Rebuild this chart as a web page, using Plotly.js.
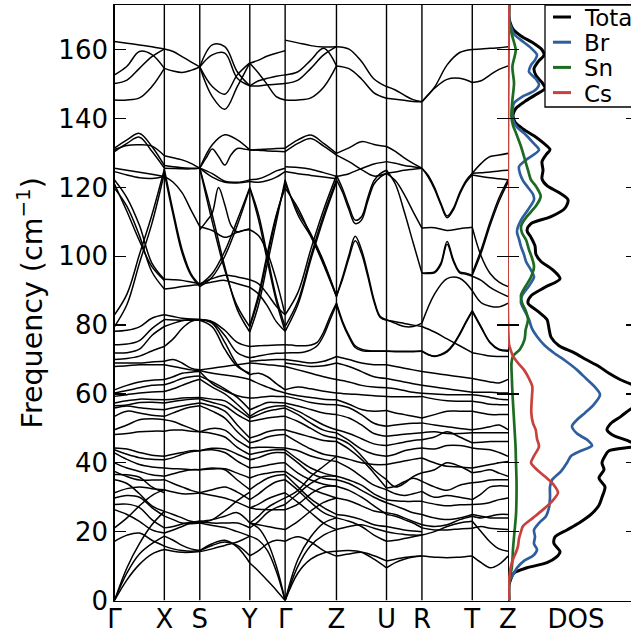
<!DOCTYPE html>
<html><head><meta charset="utf-8">
<script src="https://cdn.plot.ly/plotly-3.0.1.min.js"></script>
<style>html,body{margin:0;padding:0;background:#fff;overflow:hidden}#chart{width:631px;height:635px}</style>
</head><body><div id="chart"></div>
<script>
// High-symmetry path labels and cumulative k-path distances
const kLabels = ['Γ','X','S','Y','Γ','Z','U','R','T','Z'];
const kDist = [0, 49.8, 85.2, 135.2, 170.5, 221.8, 271.8, 307.2, 357.5, 393.2];

// Phonon branches per path segment (cm^-1), each sampled evenly along its segment
const bandsGX = [
[162.4,161.9,161.4,160.9,160.2],[152.7,155.2,159.5,158.6,154.6],[150.2,151.2,154.6,158,160.2],[145.4,145.4,146,149.3,154.6],
[131.4,133.8,135.7,131.9,126.4],[130.4,132.8,134.6,130.5,125.6],[131,132.2,132.4,132,129.2],[125.6,125,124.4,123.8,123.2],[124.6,123.6,122.8,122.6,123.2],
[122.2,117,109,98,93.3],[121,113,104.5,97,93],[119.8,114.5,106,95.5,90.5],[83,89,100.5,112,125.3],[79.6,86,98,109.5,124.2],
[78.2,78.5,79.5,82,83],[74.3,74.5,75.5,79,81.6],[71.9,72,73,77,79.6],[70,70.3,71,72.5,73.8],[69,69,69,69.3,69.5],[68,68.2,68.5,68.5,68.5],
[61.2,62.5,63.5,64,64.2],[60.3,61,61.8,62.5,62.7],[59.3,59.8,60.3,60.6,60.7],[57.4,58,58.5,58.4,58.3],[56.6,56.8,57.5,57.6,57.4],
[55.9,56.5,56,55.6,55.4],[53.5,55,54.5,53.8,53.5],[49.6,51,52.5,52.8,52.5],[48.2,48.5,49,49.2,49.2],[44.3,44,43,42.2,41.9],
[43.8,42.5,41.5,41,40.9],[42.9,41,39.5,38.8,38.5],[40,38.5,37.5,36.5,36.1],[37.5,36,35,35,35.1],[36.6,36.5,35.8,33,31.3],
[35.1,34,31,27.5,25.9],[31.3,32.5,33,32.5,32.2],[29.8,30.5,30,27,24.5],[27.9,28,27,23.5,21.1],[26.4,25,23,20.5,19.6],
[21.1,24,27.5,30.5,32.2],[17.2,19,19.6,17.5,15.8],[0,6,10.5,13.5,14.8],[0,8,13.5,16.5,18.7],[0,9.5,16.5,22,25.9]
];
const bandsXS = [
[160.2,159.5,158,156.5,155],[154.6,153.8,153.4,154,155],
[129.2,128.6,128,127,125.6],[125.6,125.5,125.4,125.4,125.6],[126.4,126,125.7,125.6,125.6],
[123.2,121.5,118.5,113.5,108.6],[125.3,113,102,95,91.7],[124.2,112,101,94.5,91.2],
[93.3,93.2,93,92.5,92],[90.5,90.8,91.2,91.5,91.7],[83,82.5,82,81.8,81.6],[79.6,80.5,81.3,81.6,81.6],[81.6,81.5,81.4,81.4,81.4],[73.8,76,79,81,81.6],
[69.5,70,69,67.5,67],[68.5,68,67.5,67,66.8],[64.2,65,66,66.3,66.5],[62.7,63.5,64.5,65,65.2],[60.7,61.5,62.5,63.5,64.3],
[58.3,58.5,58.8,58.9,59],[57.4,57.8,58.2,58.5,58.6],[55.4,56,56.5,57,57.4],[53.5,54.5,55.5,56.2,56.6],[52.5,52,51,50,49],[49.2,49.5,49.5,49.2,49],
[41.9,42.5,43,43.5,43.5],[40.9,41.5,42.5,43.2,43.5],[38.5,38.3,38.2,38,38],[36.1,36.8,37.5,38,38],[35.1,34,33,32,31.3],[32.2,31.5,31,31,31.2],
[25.9,25,24,23,22.5],[24.5,23.5,22.5,22.3,22.5],[21.1,21.5,22.2,22.7,23],[19.6,20.5,21.5,22.5,23],
[18.7,17.5,16,15,14.5],[15.8,15,14.5,14.3,14.5],[14.8,14.3,14,14,14.2]
];
const bandsSY = [
[155,161.4,160.9,153.6,149.5],[155,158.5,159,151.7,149.5],[155,149.3,147.1,152.7,156.2],[155,146.4,142.7,149.3,156.2],
[125.6,132.4,135.3,133.8,130.9],[125.6,128.5,131.2,129,126.5,129.5,131.3,131.2,130.9],[125.6,124,121.8,121.5,122.2],[125.6,123,121.5,121.3,121.7],
[107.7,110,112.6,120,115,109,107.1,107.5,107.7],
[125.6,112,97,84.5,78],[125.6,110,96,85.5,79.5],[108.6,107.5,105.5,107,108],
[91.7,95,101.5,110.5,120],[91.2,94,100,109,119.8],[92,93.5,94.5,94,93.2],[91.7,92.5,93,92,91],
[81.6,80.5,75,68.5,65.6],[81.4,79.5,73,68,66],[81.6,81,78.5,75,73.8],[81.6,80.8,77,72,70.5],
[67,67.5,68,68.5,69],[66.8,66,65.5,65,64.2],[66.5,63,61,59.5,58.8],[65.2,63.5,61.5,59,55.4],[64.3,62,60,57,53.5],
[59,58.5,58,55.5,53],[58.6,57.5,56.5,54,52],[57.4,56.5,55,51,47.2],[56.6,55,53,49,45.8],[49,50,49.5,46.5,44.3],[49,48.5,47.5,44.5,42.4],
[43.5,44.2,44,42.5,40.9],[43.5,43.8,43,40.5,38.5],[38,38.2,38.3,37,35.6],[38,38.5,38,35,32.2],[31.3,32.2,33,31.5,29.3],[31.2,30.5,29.8,28.5,26.9],
[23,23.5,24.5,25.5,22.5],[23,22.5,22.5,22.5,21.1],[22.5,21.8,21.2,20,18.7],[22.5,23.5,26,29,31.5],
[14.5,16.5,17.5,15.5,10.9],[14.5,16,17,16,13],[14.2,15,16,17,18.7]
];
const bandsYG = [
[156.1,157,158.2,159,159.7],[156.1,153.2,149.8,146.4,145.4],[149.5,149.5,149.8,150,150.2],[149.5,151,151.7,152.3,152.7],
[130.9,131,131.2,131.3,131.4],[130.9,130.8,130.6,130.5,130.4],[122.2,122.5,123.5,124.8,125.6],[121.7,121.5,122,123,124.6],
[120,112,100,88,79.6],[119.8,110.5,98.5,87,78.2],[78,86,98,110,122.2],[79.5,88,100,111.5,121],[80,89,101,112,119.8],
[107.7,106,101,93,83],[93.2,92,89,85.5,83],[91,89,85.5,81,78.2],
[73.8,74,74.1,74.2,74.3],[70.5,71,71.5,71.8,71.9],[69.5,69.7,69.9,70,70],[69,68.8,68.5,68.3,68],
[65.6,66,65,63,61.2],[64.2,63,62,61,60.3],[58.8,59,59.3,59.3,59.3],[55.4,56.5,57.5,57.5,57.4],[53.5,55,56,56.5,56.6],[53,54,55,55.5,55.9],
[52,52.5,53,53.3,53.5],[47.2,48,49,49.5,49.6],[45.8,46.5,47.5,48,48.2],[44.3,44.5,44.5,44.4,44.3],[42.4,43,43.5,43.8,43.8],[40.9,41.5,42.5,43,42.9],
[38.5,38.8,39.3,39.8,40],[35.6,36.5,37,37.4,37.5],[32.2,34,35.5,36.3,36.6],[29.3,31,33,34.5,35.1],[26.9,28,29.5,30.5,31.3],[22.5,24.5,27,28.5,29.8],
[21.1,23,25.5,27,27.9],[26.9,26.5,26.4,26.4,26.4],[22.5,22,21.5,21,20.6],[13,14.5,16.5,17.5,17.2],
[10.9,8.5,5.8,3,0],[18.7,17.5,14.5,8.5,0],[22.5,21,17,10,0]
];
const bandsGZ = [
[162.8,162,161.2,160.8,160.9],[152.7,153.6,157,160.4,155.3],[150.2,151.2,154.6,158.5,160.9],[145.4,145.4,146,149.1,155.3],
[131.4,133.8,135.2,132.8,129.9],[130.4,132.8,134.2,132,129.4],[126,125.8,125.3,124.3,123.2],[124.6,124,123.5,123,122.5],
[122.2,112,105.8,98,88.3],[121,113,106.5,98.5,88.5],[119.8,114,106,97.5,88.3],
[79.6,87,100,112,122.2],[78.2,86,99,111,121.5],[83,89.5,102,113.5,123.5],
[74.3,74.2,74,74,74.2,75,78,82.5,86.4],[71.9,72,72,72.2,72.8,74,77,81.5,86],
[70,69.5,69,69.5,70.9],[69,68.5,68,68.2,69],[68,67,66,65,64.2],
[61.2,62,61.5,60.8,60.3],[60.3,59.5,59,58.5,58.3],[59.3,58.5,57.5,57,56.9],[57.4,56.5,55.5,54.5,54],[56.6,55,53,51,49.6],[55.9,54,51.5,49.5,48.7],
[53.5,52,50,48,47.2],[49.6,48.5,47.5,46.5,46.2],[48.2,46,44,42.5,41.9],[44.3,43.5,42,41,40.4],[43.8,41,38.5,37,36.1],[42.9,40,37,35.5,35.1],
[40,37,35,33.8,33.2],[37.5,35,32.5,31,29.8],[36.6,33,29.5,27,25],[35.1,32,28.5,25.5,24],[31.3,28.5,25.5,22.5,20.6],
[29.8,32,36,39,41.9],[27.9,31,34,36,36.1],[26.4,28,31,33,33.2],[20.6,23,26,28.5,29.8],[17.2,18.5,17,14.5,12.9],
[0,8,12,13.8,14.3],[0,10,16,19,20.6],[0,12,18.5,22.5,24]
];
const bandsZU = [
[160.9,160.2,156.6,151.5,149.3],[155.3,154.5,151.5,147.5,145.9],
[129.9,131.5,133.3,132.5,131.9],[129.4,127.5,125.2,123.3,124.1],[123.2,124,125.5,126.8,127.5],
[122.2,118.5,113.5,109.5,110.5,116,121,123,124.1],[123.5,119.5,114.5,110.5,111.5,117,122,124,125],
[88.3,94.1,100.4,105.8,101.9,95.1,87.4,82.5,81.6],[88.5,93.5,99.5,104.5,100.8,94.2,86.8,82.2,81.4],
[86.4,81,77,74,73,72.6,72.5,72.5,72.5],[86,80.5,76.5,73.5,72.6,72.4,72.4,72.4,72.4],
[70.9,70,69,68.5,68.5],[69,68,66.5,65,64.5],[64.2,63.5,62.5,62,61.8],[60.3,60,59.8,59.5,59.3],[58.3,57,55.5,55,55.2],
[56.9,56,54,51.5,50.6],[54,53,51,48.5,47.7],[49.6,48.5,47,45.5,45],[48.7,46.5,44,42.5,41.9],[47.2,45.5,42,38,35.1],
[46.2,44,41,37,32.7],[41.9,41,40,39.5,39.5],[40.4,38.5,36,33.5,32.2],[36.1,35,33.5,31,29.3],[35.1,34,32,30,28.4],
[33.2,32,30,27.5,25],[29.8,29,27.5,26,25.5],[25,24.5,23.5,22,21.5],[24,23,21.5,19,17.2],[20.6,21.5,22,21,20],
[14.3,14.5,14,12,9.5],[12.9,13.5,14,13,11.5]
];
const bandsUR = [
[149.3,148.3,146.8,145.5,144.9],[145.9,145.6,145.3,145,144.9],
[131.9,130.5,128.6,127,125.6],[127.5,127,126.4,126,125.6],[124.1,124.5,125,125.3,125.6],
[124.1,122,118,113,108.2],[125,121,113,104,95.1],
[81.6,80.5,79.6,79.6,80.6],[81.4,81,80.5,80,79.6],[72.5,72.4,72.4,72.4,72.5],[72.4,72.3,72.3,72.3,72.4],
[68.5,68,67.5,67,66.5],[64.5,64,63.5,63,62.5],[61.8,61.5,61,60.5,60.2],[59.3,59.2,59.2,59.2,59.3],[55.2,54.5,54,53.5,53],
[50.6,51,51.3,51.5,51.6],[47.7,48,48.3,48.5,48.7],[45,45.5,46,46.5,46.7],[41.9,42.5,43.5,44,44.3],[39.5,40,40.5,41,41.4],
[35.1,33,34,36,37.1],[32.7,33.2,34.5,35.5,34.6],[32.2,31,30.5,31,31.7],[29.3,29,28.8,28.8,28.8],[28.4,27.5,26.5,25.5,25],
[25.5,25,24,23,22],[25,24.5,23.5,22.5,21.1],[21.5,21,20.5,20.2,20],[20,19.5,19.2,19,19],[17.2,17.5,18,18.5,19],
[11.5,12,12.5,12.8,12.9],[9.5,11,12,12.6,12.9]
];
const bandsRT = [
[144.9,149.1,155.6,159.2,160.1],[144.9,148.8,151.4,151.7,150.5],
[125.6,123.5,120,115.5,111.7,114,118.5,122,124.1],[125.6,123,119.5,115,111.2,113.5,118,121.5,123.6],
[108.2,108.3,107.5,108,108.4],
[95.1,95.2,95.5,98,104.3,99,95.5,95.1,94.5],[95.1,95,95.2,97.5,103.5,98.5,95.2,94.8,94.2],
[80.6,89,93.5,93.6,90],
[72.5,71.5,71,71.5,72.5,74.5,77.5,81,84.2],[72.4,71.4,70.9,71.3,72.2,74.2,77.2,80.7,84],
[79.6,78,76,74,72],
[66.5,66,65.5,65,64.5],[62.5,62,61.5,61,60.5],[60.2,60,59.8,59.8,59.8],[59.3,58.5,58,57.9,57.9],[53,54,55,55,55],
[51.6,51,50.5,50,49.6],[48.7,49,48.5,48.5,48.7],[46.7,47.5,49,47.5,45.8],[44.3,44,45,45,44.3],[41.4,40,39,38.8,38.5],
[37.1,38,40,39,37.1],[34.6,33,32,33.5,34.2],[31.7,30,30.5,30,29.3],[28.8,28,27.5,27.8,27.9],[25,24,23.5,24,25],
[22,21.5,22,23.5,24.5],[21.1,20.5,20.5,20.8,21],[19,20,21.5,22.5,23],[12.9,12.6,12.4,12.6,12.9]
];
const bandsTZ = [
[160.1,160.2,160.4,160.6,160.9],[150.5,151,152.7,154.3,155.3],
[124.1,127,129,129.4,129.9],[124.1,124.3,124.5,124.8,125],[123.6,123.2,122.8,122.5,122.2],
[108.4,100,95,92.5,91.2],[95.1,102,110,117,122.2],[94.5,101,109,116,121.5],[94.2,93,91,89.5,88.3],
[90,86.5,85.5,85.3,86.4],[84.2,79.5,75,73,72.7],[84,79.2,74.8,72.8,72.4],[72,71.5,71,70.9,70.9],
[64.5,64,63.5,63.2,64.2],[60.5,60.5,60.5,60.3,60.3],[59.8,59.5,59,58.5,58.3],[57.9,57.5,57,56.9,56.9],[55,54.5,54,54,54],
[49.6,50,50.5,51,49.6],[48.7,48.7,48.7,48.7,48.7],[45.8,46,46.2,46.2,46.2],[44.3,44,43.8,43,41.9],[38.5,39,39.5,40,40.4],
[37.1,37.5,38,37,36.1],[34.2,34.5,35,35.1,35.1],[29.3,31,33,33.3,33.2],[27.9,28,28.5,29.3,29.8],[25,24.5,24,24,24],
[24.5,24,24.5,25,25],[21,21.5,21,20.8,20.6],[23,20,17,15,14.3],[12.9,11,9.5,10.5,12.9]
];
const segments = [bandsGX, bandsXS, bandsSY, bandsYG, bandsGZ, bandsZU, bandsUR, bandsRT, bandsTZ];

// Density of states (frequency, value) per species
const dosFreqTotal = [0,4.5,6,8,9.5,11,12.5,14.2,16.5,18.5,20.5,22.5,25,27.7,30,33,35.6,38,40,42,43.5,45,46.5,48,49.6,51.5,53.5,55.5,57.5,60,62.5,64.2,66,68,70,72,74,76.5,79,81.6,84,86.4,88.5,91,93.5,96,98.5,100.5,103,105.5,107.5,109.5,111.5,114,116.4,118.5,120.5,122.5,125,127.5,129.5,131,133,135,137,139,141,143,145,147,148.8,150.5,152.5,154.5,156.5,158.5,160,162,164,166,168,169.5,173];
const dosTotal = [0,0,1.5,5,18,38,47,51,45,46,58,70,82,90,93,96,90,95,93,96,100,128,118,104,98,102,112,121,135,148,125,111,100,90,77,65,50,42,40,38,29,19,22,36,51,44,32,27,26,22,18,22,42,56,59,50,38,33,34,33,37,41,34,25,14,6,4,7,16,27,36,33,27,25,29,35,33,24,12,4,1,0,0];
const dosFreqBr = [0,5,6,7.5,9.5,11.5,13,14.8,16.5,18.5,20.5,22.5,24.5,27,30,33,35,37.5,40,42,43.5,45,46.5,48.5,50.6,52.5,54.5,57,59.8,62,64.5,67,69.5,71.9,74,76.7,79,81.6,84,86.5,88.5,91,94,96,98.5,100.5,102.8,105,107,108.6,111,113.5,116.4,118,120,122,124,126,128,130.9,133,135.8,137.5,139.6,142,144.5,146.5,148,149.8,151.5,153.6,155.5,157,158.5,160.5,162.8,164.5,166.6,168,169,173];
const dosBr = [0,0,1,4,8,15,24,28,25,26,25,30,37,40,41,41,43,52,58,62,72,83,79,68,63,68,76,85,91,86,77,68,57,45,36,28,23,20,16,12,13,19,25,22,17,15,12,10,8,9,13,19,25,24,19,14,11,10,17,30,24,15,8,4,3.5,5,14,25,30,27,20,22,26,28,22,12,5,2,0.5,0,0];
const dosFreqSn = [0,5,7,9,12,15,20,25,30,35,40,45,50,55,60,65,69,71,73,75.8,78.7,81.6,84,86.5,88.7,91,94,97,99.5,101.9,104.8,106.8,108.6,110,111.6,114.5,117.4,120.3,122.2,125,128,131.9,135.8,138,140.6,145.4,150.3,155.1,159.9,163.8,166.7,168,173];
const dosSn = [0,0,1,2.5,3.5,4,5.5,7,7.5,7.5,7,6.5,5.5,4.5,3.5,2.8,2.5,4,11,15.5,16.7,19,17,13,12,16,22,25,23,20,17,13,12,14,18,26.7,31.7,27,22,19,16,12,7,4,2.4,3.4,5,3.4,6.7,3.4,1,0,0];
const dosFreqCs = [0,5,7.6,10,12,14,15.8,18,20,21.6,24,26.4,28.5,31.3,33.5,36,38,40,42,44.8,47,49.6,51.5,54.5,57,59.5,62.2,64.5,67,69,71,72.9,74.5,173];
const dosCs = [0,0,0.7,2,4,7,9,10,12,14,24,34,42,49,45,36,28,22,25,30,28,26.7,24,22.3,22.5,23,23.3,20,15,9,4,1.5,0,0];

const dosSeries = [
  {name:'Total', f:dosFreqTotal, v:dosTotal, color:'#000000', width:3},
  {name:'Br', f:dosFreqBr, v:dosBr, color:'#2f5e9e', width:2.7},
  {name:'Sn', f:dosFreqSn, v:dosSn, color:'#1d6b22', width:2.7},
  {name:'Cs', f:dosFreqCs, v:dosCs, color:'#c8413c', width:2.7}
];

// Build band trace
const bx = [], by = [];
segments.forEach((seg, s) => {
  const a = kDist[s], b = kDist[s+1];
  seg.forEach(curve => {
    const n = curve.length;
    curve.forEach((f, i) => { bx.push(a + (b - a) * i / (n - 1)); by.push(f); });
    bx.push(null); by.push(null);
  });
});

const W = 631, H = 635;
const px = v => v / W, py = v => 1 - v / H;
const traces = [{
  x: bx, y: by, mode: 'lines', xaxis: 'x', yaxis: 'y', hoverinfo: 'skip', showlegend: false,
  line: {color: 'black', width: 1.5, shape: 'spline', smoothing: 1}
}];
dosSeries.forEach(d => traces.push({
  x: d.v, y: d.f, mode: 'lines', xaxis: 'x2', yaxis: 'y2', hoverinfo: 'skip', showlegend: false,
  line: {color: d.color, width: d.width, shape: 'spline', smoothing: 0.8}
}));
traces.push({x: [null], y: [null], xaxis: 'x2', yaxis: 'y3', showlegend: false, mode: 'lines'});

const font = {family: 'DejaVu Sans, sans-serif', size: 26, color: 'black'};
const yTicks = [0,20,40,60,80,100,120,140,160];
const shapes = kDist.slice(1, -1).map(k => ({type: 'line', xref: 'x', yref: 'y', x0: k, x1: k, y0: 0, y1: 173, line: {color: 'black', width: 1.4}}));

// manual legend
shapes.push({type: 'rect', xref: 'paper', yref: 'paper', x0: px(545), x1: px(660), y0: py(107), y1: py(5), fillcolor: 'white', line: {color: 'black', width: 1.3}, layer: 'above'});
const annotations = [];
dosSeries.forEach((d, i) => {
  const yy = 17 + i * 25.2;
  shapes.push({type: 'line', xref: 'paper', yref: 'paper', x0: px(553), x1: px(571), y0: py(yy), y1: py(yy), line: {color: d.color, width: 3}, layer: 'above'});
  annotations.push({xref: 'paper', yref: 'paper', x: px(582), y: py(yy + 1), xanchor: 'left', yanchor: 'middle', text: d.name, showarrow: false, font: {family: 'DejaVu Sans, sans-serif', size: 23, color: 'black'}});
});

const layout = {
  width: W, height: H, margin: {l: 0, r: 0, t: 0, b: 0}, paper_bgcolor: 'white', plot_bgcolor: 'white', showlegend: false,
  xaxis: {domain: [px(114.5), px(508)], range: [0, kDist[kDist.length-1]], tickvals: kDist, ticktext: kLabels, ticks: '', showgrid: false, zeroline: false,
    showline: true, mirror: true, linecolor: 'black', linewidth: 1.3, tickfont: font, anchor: 'y', automargin: false, ticklabelstandoff: -5},
  yaxis: {domain: [1 - 600.5/H, 1 - 5/H], range: [0, 173], tickvals: yTicks, ticks: 'inside', ticklen: 11, tickwidth: 1.3, tickcolor: 'black',
    showline: true, mirror: 'ticks', linecolor: 'black', linewidth: 1.3, showgrid: false, zeroline: false, tickfont: font, anchor: 'x', automargin: false,
    title: {text: 'Frequency (cm<sup>−1</sup>)', font: {family: 'DejaVu Sans, sans-serif', size: 28.5, color: 'black'}, standoff: 7}},
  xaxis2: {domain: [px(508), 1], range: [-1, 122], tickvals: [67], ticktext: ['DOS'], ticks: '', showgrid: false, zeroline: false,
    showline: true, mirror: true, linecolor: 'black', linewidth: 1.3, tickfont: font, anchor: 'y2', automargin: false, ticklabelstandoff: -5},
  yaxis2: {domain: [1 - 600.5/H, 1 - 5/H], range: [0, 173], tickvals: yTicks, ticks: 'inside', ticklen: 11, tickwidth: 1.3, tickcolor: 'black',
    showline: false, showticklabels: false, showgrid: false, zeroline: false, anchor: 'x2', side: 'left'},
  yaxis3: {overlaying: 'y2', range: [0, 173], tickvals: yTicks, ticks: 'inside', ticklen: 5, tickwidth: 1.3, tickcolor: 'black',
    showline: false, showticklabels: false, showgrid: false, zeroline: false, anchor: 'x2', side: 'right'},
  shapes: shapes, annotations: annotations
};
Plotly.newPlot('chart', traces, layout, {staticPlot: true});
</script></body></html>
